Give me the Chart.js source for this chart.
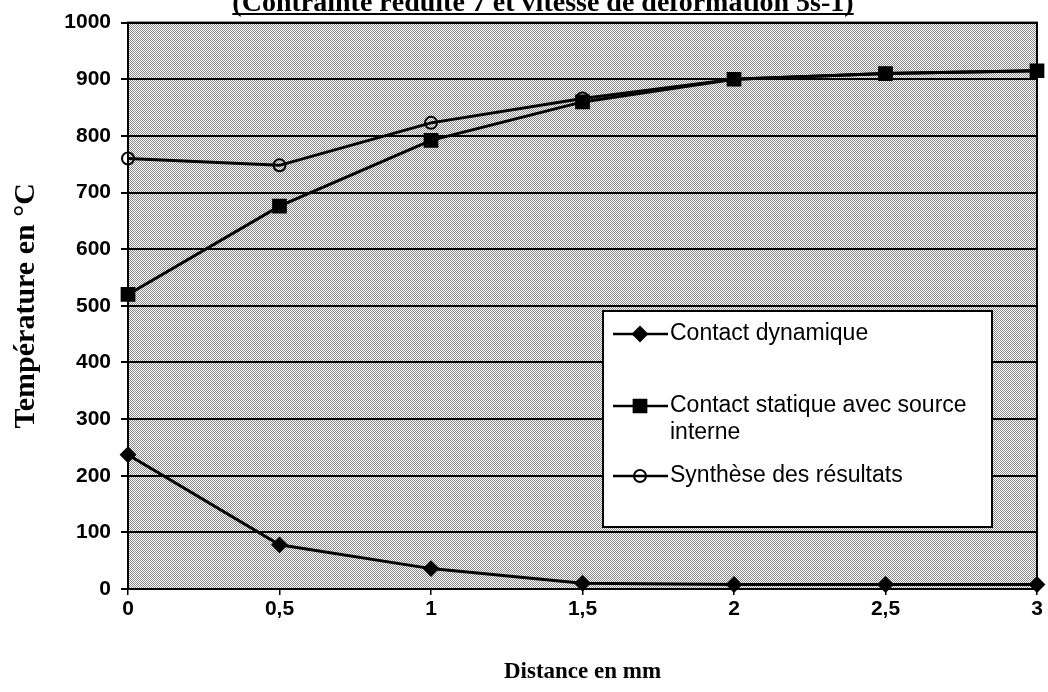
<!DOCTYPE html>
<html>
<head>
<meta charset="utf-8">
<script src="https://cdn.jsdelivr.net/npm/chart.js@4.4.1/dist/chart.umd.min.js"></script>
<style>
  body { margin: 0; background: #fff; }
  #wrap { width: 1048px; height: 692px; }
</style>
</head>
<body>
<div id="wrap"><canvas id="chart" width="1048" height="692"></canvas></div>
<script>
// Températures le long de la distance (mm)
const distances = [0, 0.5, 1, 1.5, 2, 2.5, 3];
const xTickLabels = ['0', '0,5', '1', '1,5', '2', '2,5', '3'];
const contactDynamique = [237, 78, 36, 10, 8, 8, 8];
const contactStatique = [520, 676, 792, 860, 900, 910, 915];
const synthese = [760, 748, 823, 866, 900, 910, 915];
const seriesLabels = ['Contact dynamique', 'Contact statique avec source interne', 'Synthèse des résultats'];
const titre = '(Contrainte réduite 7 et vitesse de déformation 5s-1)';

const sansFont = 'Liberation Sans';
const serifFont = 'Liberation Serif';

// trame grise du fond (points)
function makeTrame() {
    const c = document.createElement('canvas');
    c.width = 2; c.height = 2;
    const g = c.getContext('2d');
    g.fillStyle = '#ffffff';
    g.fillRect(0, 0, 2, 2);
    g.fillStyle = '#8a8a8a';
    g.fillRect(0, 0, 1, 1);
    g.fillRect(1, 1, 1, 1);
    return c;
}

const ctx = document.getElementById('chart').getContext('2d');
const trame = ctx.createPattern(makeTrame(), 'repeat');

function toPoints(values) {
    return distances.map((d, i) => ({ x: d, y: values[i] }));
}

const fondPlugin = {
    id: 'fond',
    beforeDraw(chart) {
        const a = chart.chartArea;
        const c = chart.ctx;
        c.save();
        c.fillStyle = trame;
        c.fillRect(a.left, a.top, a.right - a.left, a.bottom - a.top);
        c.restore();
    },
    beforeDatasetsDraw(chart) {
        const a = chart.chartArea;
        const c = chart.ctx;
        c.save();
        c.strokeStyle = '#000';
        c.lineWidth = 2;
        c.strokeRect(a.left, a.top, a.right - a.left, a.bottom - a.top);
        c.restore();
    }
};

// titre coupé en haut de la page
const titrePlugin = {
    id: 'titre',
    afterDraw(chart) {
        const c = chart.ctx;
        c.save();
        c.font = 'bold 28px ' + serifFont;
        c.fillStyle = '#000';
        c.textAlign = 'center';
        c.textBaseline = 'alphabetic';
        const cx = 543;
        c.fillText(titre, cx, 11);
        const w = c.measureText(titre).width;
        c.fillRect(cx - w / 2, 13, w, 2);
        c.restore();
    }
};

// légende dans un cadre blanc
const legendePlugin = {
    id: 'legende',
    afterDraw(chart) {
        const c = chart.ctx;
        const box = { x: 603, y: 311, w: 389, h: 216 };
        const rows = [334, 406, 476];
        c.save();
        c.fillStyle = '#fff';
        c.fillRect(box.x, box.y, box.w, box.h);
        c.strokeStyle = '#000';
        c.lineWidth = 2;
        c.strokeRect(box.x, box.y, box.w, box.h);
        c.font = '23px ' + sansFont;
        c.textBaseline = 'middle';
        chart.data.datasets.forEach((ds, i) => {
            const y = rows[i];
            c.strokeStyle = '#000';
            c.lineWidth = 2.5;
            c.beginPath();
            c.moveTo(613, y);
            c.lineTo(668, y);
            c.stroke();
            c.fillStyle = ds.pointBackgroundColor;
            c.strokeStyle = ds.pointBorderColor;
            c.lineWidth = ds.pointBorderWidth;
            Chart.helpers.drawPoint(c, {
                pointStyle: ds.pointStyle,
                radius: ds.pointRadius,
                borderWidth: ds.pointBorderWidth
            }, 640, y);
            c.fillStyle = '#000';
            // retour à la ligne si le texte dépasse le cadre
            const words = ds.label.split(' ');
            let line = '';
            let ly = y;
            words.forEach(wd => {
                const test = line ? line + ' ' + wd : wd;
                if (c.measureText(test).width > 315 && line) {
                    c.fillText(line, 670, ly);
                    line = wd;
                    ly += 27;
                } else {
                    line = test;
                }
            });
            c.fillText(line, 670, ly);
        });
        c.restore();
    }
};

function serie(label, values, style, radius, fill) {
    return {
        label: label,
        data: toPoints(values),
        borderColor: '#000',
        borderWidth: 3,
        pointStyle: style,
        pointRadius: radius,
        pointBorderWidth: 2,
        pointBorderColor: '#000',
        pointBackgroundColor: fill,
        tension: 0,
        clip: false
    };
}

new Chart(ctx, {
    type: 'line',
    data: {
        datasets: [
            serie(seriesLabels[0], contactDynamique, 'rectRot', 7, '#000'),
            serie(seriesLabels[1], contactStatique, 'rect', 9, '#000'),
            serie(seriesLabels[2], synthese, 'circle', 6, 'rgba(0,0,0,0)')
        ]
    },
    options: {
        responsive: false,
        animation: false,
        layout: { padding: { top: 16, right: 5, left: 0, bottom: 0 } },
        plugins: {
            legend: { display: false },
            tooltip: { enabled: false }
        },
        scales: {
            x: {
                type: 'linear',
                min: 0,
                max: 3,
                afterFit(scale) {
                    scale.height = 103;
                    scale.paddingRight = 0;
                },
                ticks: {
                    stepSize: 0.5,
                    color: '#000',
                    padding: 2,
                    font: { family: sansFont, size: 21, weight: 'bold' },
                    callback: (v) => xTickLabels[distances.indexOf(v)]
                },
                grid: {
                    drawOnChartArea: false,
                    color: '#000',
                    lineWidth: 1.5,
                    tickLength: 6
                },
                border: { display: true, color: '#000', width: 2 },
                title: {
                    display: true,
                    text: 'Distance en mm',
                    color: '#000',
                    font: { family: serifFont, size: 23, weight: 'bold' },
                    padding: { top: 6, bottom: 6 }
                }
            },
            y: {
                min: 0,
                max: 1000,
                afterFit(scale) { scale.width = 128; },
                ticks: {
                    stepSize: 100,
                    color: '#000',
                    padding: 10,
                    font: { family: sansFont, size: 21, weight: 'bold' },
                    callback: (v) => String(v)
                },
                grid: {
                    color: '#000',
                    lineWidth: 2,
                    tickLength: 7
                },
                border: { display: true, color: '#000', width: 2 },
                title: {
                    display: true,
                    text: 'Température en °C',
                    color: '#000',
                    font: { family: serifFont, size: 30, weight: 'bold' },
                    padding: { top: 8, bottom: 8 }
                }
            }
        }
    },
    plugins: [fondPlugin, titrePlugin, legendePlugin]
});
</script>
</body>
</html>
